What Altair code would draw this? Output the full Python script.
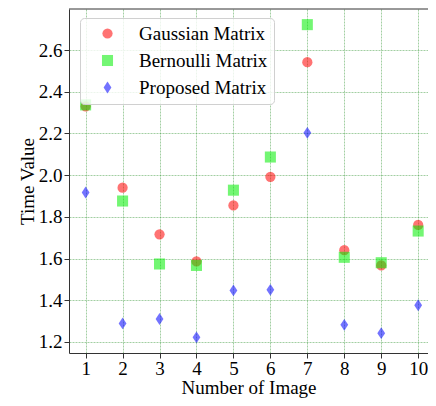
import altair as alt
import pandas as pd

images = list(range(1, 11))
gaussian = [2.330, 1.940, 1.716, 1.586, 1.855, 1.992, 2.542, 1.640, 1.567, 1.761]
bernoulli = [2.337, 1.876, 1.574, 1.567, 1.928, 2.087, 2.722, 1.606, 1.580, 1.732]
proposed = [1.917, 1.289, 1.310, 1.222, 1.447, 1.450, 2.203, 1.282, 1.242, 1.376]
series_names = ["Gaussian Matrix", "Bernoulli Matrix", "Proposed Matrix"]
series_colors = ["#ff0000", "#00ee00", "#0000ff"]
x_ticks = list(range(1, 11))
y_ticks = [1.2, 1.4, 1.6, 1.8, 2.0, 2.2, 2.4, 2.6]

rows = []
for name, vals in zip(series_names, [gaussian, bernoulli, proposed]):
    for i, v in zip(images, vals):
        rows.append({"Image": i, "Time": v, "Series": name})
df = pd.DataFrame(rows)

W, H = 359, 344
FONT = "Liberation Serif"
diamond = "M0,-1L0.66,0L0,1L-0.66,0Z"

legend = alt.Legend(
    title=None, orient="none", legendX=11, legendY=9,
    labelFont=FONT, labelFontSize=19, labelColor="black",
    symbolOffset=12, labelOffset=22, padding=6, rowPadding=7,
    strokeColor="#d0d0d0", fillColor="rgba(255,255,255,0.8)", cornerRadius=4,
    symbolStrokeWidth=0, symbolOpacity=0.55,
)

points = alt.Chart(df).mark_point(filled=True, opacity=0.55, strokeWidth=0).encode(
    x=alt.X("Image:Q",
            scale=alt.Scale(domain=[0.55, 10.266], nice=False, zero=False),
            axis=alt.Axis(values=x_ticks, format="d", title="Number of Image",
                          labelPadding=1, titleY=40, titleBaseline="alphabetic")),
    y=alt.Y("Time:Q",
            scale=alt.Scale(domain=[1.147, 2.797], nice=False, zero=False),
            axis=alt.Axis(values=y_ticks, format=".1f", title="Time Value",
                          labelPadding=2, titleX=-36, titleBaseline="alphabetic")),
    color=alt.Color("Series:N", scale=alt.Scale(domain=series_names, range=series_colors), legend=legend),
    shape=alt.Shape("Series:N", scale=alt.Scale(domain=series_names, range=["circle", "square", diamond]), legend=legend),
    size=alt.Size("Series:N", scale=alt.Scale(domain=series_names, range=[105, 140, 280]), legend=legend),
)

top_border = alt.Chart(pd.DataFrame({"a": [0]})).mark_rule(color="#333333", strokeWidth=1).encode(
    x=alt.value(0), x2=alt.value(W), y=alt.value(0)
)

chart = alt.layer(points, top_border).properties(
    width=W, height=H,
    autosize=alt.AutoSizeParams(type="none"),
    padding={"left": 61, "top": 1, "right": 0, "bottom": 45},
).configure_view(stroke=None).configure_axis(
    labelFont=FONT, titleFont=FONT, labelFontSize=19, titleFontSize=19,
    titleFontWeight="normal", labelColor="black", titleColor="black",
    tickColor="#333333", domainColor="#333333", tickSize=5, domainWidth=1,
    gridColor="#3a9a3a", gridOpacity=0.6, gridDash=[2, 1], gridWidth=0.8,
)

chart.save("out.html", embed_options={"renderer": "svg", "actions": False})
